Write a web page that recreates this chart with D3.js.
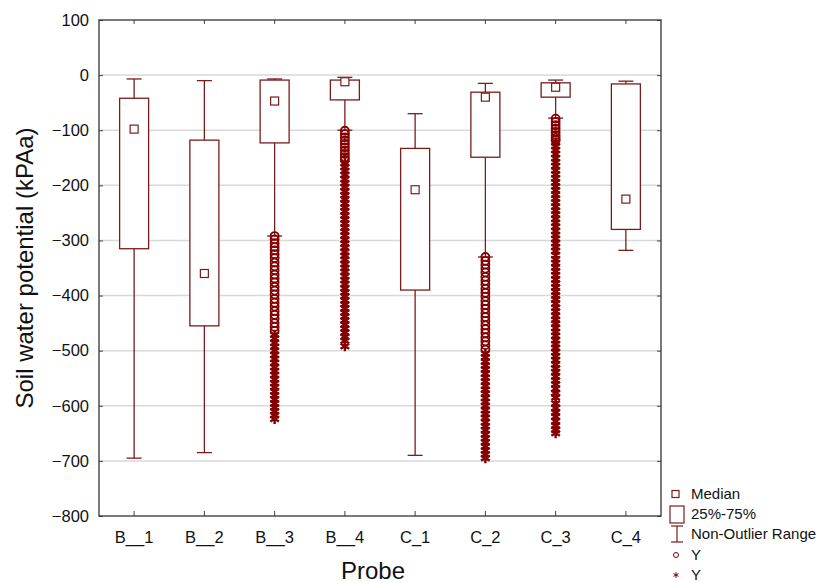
<!DOCTYPE html>
<html>
<head>
<meta charset="utf-8">
<script src="https://cdn.jsdelivr.net/npm/d3@7"></script>
<style>
  body { margin: 0; background: #fff; }
  svg { font-family: "Liberation Sans", Arial, sans-serif; }
</style>
</head>
<body>
<div id="chart"></div>
<script>
var width_chart = 836,
    height_chart = 583;

// box plot values (kPa)
var probes   = ["B__1", "B__2", "B__3", "B__4", "C_1", "C_2", "C_3", "C_4"];
var whis_top = [-7, -10, -7, -4, -70, -15, -9, -11];
var q3       = [-42, -118, -9, -9, -133, -31, -14, -16];
var medians  = [-98, -360, -47, -12, -208, -40, -22, -225];
var q1       = [-315, -455, -123, -45, -390, -149, -40, -280];
var whis_bot = [-695, -685, -292, -100, -690, -330, -78, -318];

// outliers (circles) and extremes (stars) per probe
var outliers = {
  "B__3": [-292,-298,-305,-312,-318,-325,-332,-340,-347,-354,-362,-369,-376,-384,-391,-398,-406,-413,-420,-428,-435,-442,-450,-457,-464],
  "B__4": [-101,-107,-113,-119,-125,-131,-137,-143,-149,-154],
  "C_2":  [-330,-337,-344,-351,-358,-366,-373,-380,-388,-395,-402,-410,-417,-424,-432,-439,-446,-454,-461,-468,-476,-483,-490,-498],
  "C_3":  [-79,-85,-91,-97,-103,-109,-114,-118]
};
var extremes = {
  "B__3": [-471,-478,-486,-493,-500,-508,-515,-522,-530,-537,-544,-552,-559,-566,-574,-581,-588,-596,-603,-610,-617,-624],
  "B__4": [-160,-167,-174,-181,-189,-196,-203,-211,-218,-225,-233,-240,-247,-255,-262,-269,-277,-284,-291,-299,-306,-313,-321,-328,-335,-343,-350,-357,-365,-372,-379,-387,-394,-401,-409,-416,-423,-431,-438,-445,-453,-460,-467,-475,-482,-492],
  "C_2":  [-505,-512,-520,-527,-534,-542,-549,-556,-564,-571,-578,-586,-593,-600,-608,-615,-622,-630,-637,-644,-652,-659,-666,-674,-681,-688,-695],
  "C_3":  [-122,-129,-136,-143,-151,-158,-165,-173,-180,-187,-195,-202,-209,-217,-224,-231,-239,-246,-253,-261,-268,-275,-283,-290,-297,-305,-312,-319,-327,-334,-341,-349,-356,-363,-371,-378,-385,-393,-400,-407,-415,-422,-429,-437,-444,-451,-459,-466,-473,-481,-488,-495,-503,-510,-517,-525,-532,-539,-547,-554,-561,-569,-577,-585,-596,-604,-612,-620,-628,-636,-644,-650]
};

var y_ticks = [100, 0, -100, -200, -300, -400, -500, -600, -700, -800];

var legend_items = ["Median", "25%-75%", "Non-Outlier Range", "Y", "Y"];

var col_line = "#7b1c1c",
    col_mark = "#850000",
    col_grid = "#d9d9d9";

var plot_l = 99, plot_r = 661, plot_t = 20, plot_b = 516;

var svg = d3.select("#chart").append("svg")
    .attr("width", width_chart)
    .attr("height", height_chart);

var x = d3.scaleBand().domain(probes).range([plot_l, plot_r]).padding(0);
var y = d3.scaleLinear().domain([-800, 100]).range([plot_b, plot_t]);

var boxW = 29, capW = 15;

// grid
svg.append("g").selectAll("line")
    .data(y_ticks.filter(function(d) { return d < 100 && d > -800; }))
    .enter().append("line")
    .attr("x1", plot_l).attr("x2", plot_r)
    .attr("y1", function(d) { return y(d); })
    .attr("y2", function(d) { return y(d); })
    .style("stroke", col_grid)
    .style("stroke-width", 1.5);

// axes (ticks point inward)
svg.append("g")
    .attr("transform", "translate(" + plot_l + ",0)")
    .call(d3.axisLeft(y).tickValues(y_ticks).tickSize(-4).tickPadding(10));
svg.append("g")
    .attr("transform", "translate(" + plot_r + ",0)")
    .call(d3.axisRight(y).tickValues(y_ticks).tickSize(-4).tickFormat(""));
svg.append("g")
    .attr("transform", "translate(0," + plot_b + ")")
    .call(d3.axisBottom(x).tickSize(-5).tickPadding(15));
svg.append("g")
    .attr("transform", "translate(0," + plot_t + ")")
    .call(d3.axisTop(x).tickSize(-4).tickFormat(""));

svg.selectAll(".domain").remove();
svg.selectAll(".tick line").style("stroke", "#444");
svg.selectAll(".tick text")
    .style("font-size", "16.5px")
    .style("fill", "#111")
    .style("font-family", "'Liberation Sans', Arial, sans-serif");

// frame
svg.append("rect")
    .attr("x", plot_l).attr("y", plot_t)
    .attr("width", plot_r - plot_l).attr("height", plot_b - plot_t)
    .style("fill", "none")
    .style("stroke", "#333")
    .style("stroke-width", 1.3);

// boxes
var boxes = svg.append("g").selectAll("g")
    .data(probes)
    .enter().append("g")
    .attr("transform", function(d) { return "translate(" + (x(d) + x.bandwidth() / 2) + ",0)"; });

boxes.append("line")
    .attr("x1", 0).attr("x2", 0)
    .attr("y1", function(d, i) { return y(whis_top[i]); })
    .attr("y2", function(d, i) { return y(whis_bot[i]); })
    .style("stroke", col_line).style("stroke-width", 1.3);

boxes.append("line")
    .attr("x1", -capW / 2).attr("x2", capW / 2)
    .attr("y1", function(d, i) { return y(whis_top[i]); })
    .attr("y2", function(d, i) { return y(whis_top[i]); })
    .style("stroke", col_line).style("stroke-width", 1.3);

boxes.append("line")
    .attr("x1", -capW / 2).attr("x2", capW / 2)
    .attr("y1", function(d, i) { return y(whis_bot[i]); })
    .attr("y2", function(d, i) { return y(whis_bot[i]); })
    .style("stroke", col_line).style("stroke-width", 1.3);

boxes.append("rect")
    .attr("x", -boxW / 2).attr("width", boxW)
    .attr("y", function(d, i) { return y(q3[i]); })
    .attr("height", function(d, i) { return y(q1[i]) - y(q3[i]); })
    .style("fill", "#fff")
    .style("stroke", col_line).style("stroke-width", 1.3);

boxes.append("rect")
    .attr("x", -4).attr("width", 8)
    .attr("y", function(d, i) { return y(medians[i]) - 4; })
    .attr("height", 8)
    .style("fill", "#fff")
    .style("stroke", col_line).style("stroke-width", 1.2);

// outliers and extremes
var starPath = d3.symbol(d3.symbolAsterisk, 70)();

boxes.each(function(d) {
    var g = d3.select(this);
    g.selectAll("circle.out")
        .data(outliers[d] || [])
        .enter().append("circle")
        .attr("class", "out")
        .attr("cx", 0)
        .attr("cy", function(v) { return y(v); })
        .attr("r", 4)
        .style("fill", "none")
        .style("stroke", col_mark)
        .style("stroke-width", 1.8);
    g.selectAll("path.ext")
        .data(extremes[d] || [])
        .enter().append("path")
        .attr("class", "ext")
        .attr("d", starPath)
        .attr("transform", function(v) { return "translate(0," + y(v) + ")"; })
        .style("fill", "none")
        .style("stroke", col_mark)
        .style("stroke-width", 2.4);
});

// axis titles
svg.append("text")
    .attr("transform", "translate(33," + ((plot_t + plot_b) / 2) + ") rotate(-90)")
    .attr("text-anchor", "middle")
    .style("font-size", "24px")
    .style("fill", "#111")
    .text("Soil water potential (kPAa)");

svg.append("text")
    .attr("x", 373)
    .attr("y", 579)
    .attr("text-anchor", "middle")
    .style("font-size", "24px")
    .style("fill", "#111")
    .text("Probe");

// legend
var lg = svg.append("g").attr("transform", "translate(668,0)");
var leg_y = [494, 514, 534, 555, 575];

var leg = lg.selectAll("g")
    .data(legend_items)
    .enter().append("g")
    .attr("transform", function(d, i) { return "translate(0," + leg_y[i] + ")"; });

leg.append("text")
    .attr("x", 23)
    .attr("y", 5)
    .style("font-size", "15px")
    .style("fill", "#111")
    .text(function(d) { return d; });

leg.each(function(d, i) {
    var g = d3.select(this);
    if (i == 0) {
        g.append("rect").attr("x", 4).attr("y", -3.5).attr("width", 7).attr("height", 7)
            .style("fill", "#fff").style("stroke", col_line).style("stroke-width", 1.2);
    } else if (i == 1) {
        g.append("rect").attr("x", 2).attr("y", -8).attr("width", 14).attr("height", 17)
            .style("fill", "#fff").style("stroke", col_line).style("stroke-width", 1.2);
    } else if (i == 2) {
        g.append("line").attr("x1", 9).attr("x2", 9).attr("y1", -8).attr("y2", 8)
            .style("stroke", col_line).style("stroke-width", 1.2);
        g.append("line").attr("x1", 3).attr("x2", 15).attr("y1", -8).attr("y2", -8)
            .style("stroke", col_line).style("stroke-width", 1.2);
        g.append("line").attr("x1", 3).attr("x2", 15).attr("y1", 8).attr("y2", 8)
            .style("stroke", col_line).style("stroke-width", 1.2);
    } else if (i == 3) {
        g.append("circle").attr("cx", 8).attr("cy", 0).attr("r", 2.5)
            .style("fill", "none").style("stroke", col_mark).style("stroke-width", 1);
    } else {
        g.append("path").attr("d", d3.symbol(d3.symbolAsterisk, 22)())
            .attr("transform", "translate(8,0)")
            .style("fill", "none").style("stroke", col_mark).style("stroke-width", 1);
    }
});
</script>
</body>
</html>
